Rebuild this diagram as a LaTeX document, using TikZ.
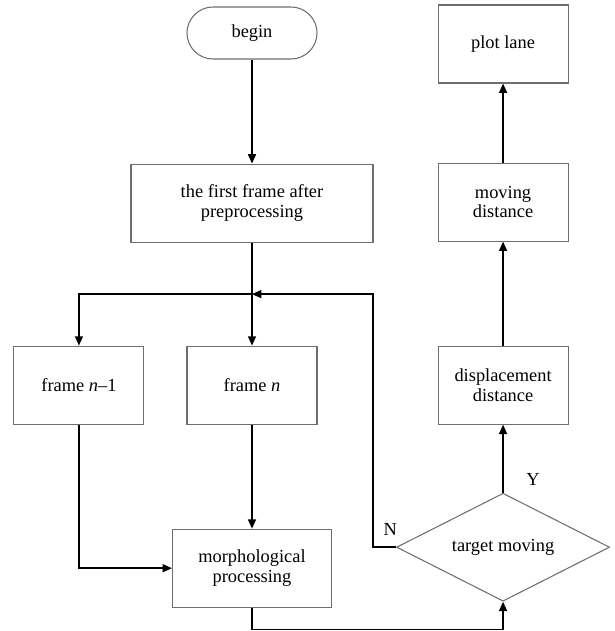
\documentclass[tikz,border=0pt]{standalone}
\usepackage{fontspec}
\setmainfont{Liberation Serif}
\usepackage{tikz}
\usetikzlibrary{shapes.geometric, arrows.meta, positioning, calc}
\definecolor{boxgray}{HTML}{6E6E6E}

\begin{document}
\begin{tikzpicture}[
    x=0.75pt, y=-0.75pt,
    node distance=78pt and 31.5pt,
    font=\fontsize{13.8}{14.5}\selectfont,
    block/.style={rectangle, draw=boxgray, line width=0.8pt, align=center, minimum width=97.5pt, minimum height=58.5pt, inner sep=2pt},
    startstop/.style={block, rounded corners=19.5pt, minimum height=39pt},
    decision/.style={diamond, draw=boxgray, line width=0.8pt, align=center, minimum width=159.75pt, minimum height=81pt, inner sep=1pt, aspect=2},
    arrow/.style={-{Triangle[length=7pt, width=6pt]}, line width=1.1pt, draw=black},
    lbl/.style={inner sep=0pt}
]
\useasboundingbox (0,0) rectangle (614,631);
\node[startstop] (begin) at (252,33) {begin};
\node[block, minimum width=181.5pt, below=of begin] (pre) {the first frame after\\preprocessing};
\node[block, below=77.25pt of pre] (fn) {frame \textit{n}};
\node[block, left=of fn] (fprev) {frame \textit{n}--1};
\node[block, minimum width=119.25pt, below=of fn] (morph) {morphological\\processing};
\node[block, right=90pt of fn] (disp) {displacement\\distance};
\node[decision, below=51pt of disp] (test) {target moving};
\node[block, above=of disp] (dist) {moving\\distance};
\node[block, above=59.25pt of dist] (plot) {plot lane};
\coordinate (split) at ($(pre.south)!0.5!(fn.north)$);
\draw[arrow] (begin) -- (pre);
\draw[arrow] (pre) -- (fn);
\draw[arrow] (split) -| (fprev);
\draw[arrow] (fn) -- (fn |- morph.north);
\draw[arrow] (fprev) |- (morph);
\draw[arrow] (morph.south) -- ++(0,22) -| (test.south);
\draw[arrow] (test.west) -- node[lbl, pos=0.25, above=8pt] {N} ++(-23,0) |- (split);
\draw[arrow] (test) -- node[lbl, pos=0.2, right=17pt] {Y} (disp);
\draw[arrow] (disp) -- (dist);
\draw[arrow] (dist) -- (plot);
\end{tikzpicture}
\end{document}
